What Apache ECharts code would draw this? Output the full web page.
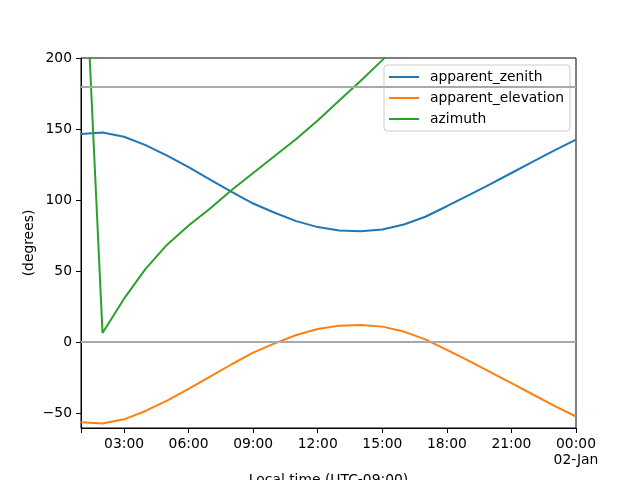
<!DOCTYPE html>
<html lang="en">
<head>
<meta charset="UTF-8">
<title>Solar position</title>
<style>
  html, body { margin: 0; padding: 0; background: #fff; }
  #main { width: 640px; height: 480px; }
</style>
</head>
<body>
<div id="main"></div>
<script src="https://cdn.jsdelivr.net/npm/echarts@6/dist/echarts.min.js"></script>
<script>
// hours of local time, 01:00 on 01-Jan through 00:00 on 02-Jan
var hours = [1, 2, 3, 4, 5, 6, 7, 8, 9, 10, 11, 12, 13, 14, 15, 16, 17, 18, 19, 20, 21, 22, 23, 24];
var apparentZenith = [146.5, 147.5, 144.5, 138.6, 131.3, 123.1, 114.4, 105.7, 97.5, 91.0, 85.1, 80.9,
                      78.5, 78.0, 79.2, 82.7, 88.2, 95.6, 103.2, 111.0, 119.0, 127.0, 135.0, 142.5];
var apparentElevation = [-56.5, -57.5, -54.5, -48.6, -41.3, -33.1, -24.4, -15.7, -7.5, -1.0, 4.9, 9.1,
                         11.5, 12.0, 10.8, 7.3, 1.8, -5.6, -13.2, -21.0, -29.0, -37.0, -45.0, -52.5];
var azimuth = [331, 6.3, 30.5, 51.5, 68.5, 82, 94, 107, 119, 131, 143, 156,
               170, 184, 198.5, 213, 227, 240, 253, 265, 277, 289, 300, 312];
var xTicks = [1, 3, 6, 9, 12, 15, 18, 21, 24];
var xLabels = [3, 6, 9, 12, 15, 18, 21, 24];
var yTicks = [-50, 0, 50, 100, 150, 200];
var refLines = [0, 180];

var font = 'DejaVu Sans';
var fs = 13.89;   // 10pt at 100 dpi

function pairs(ys) {
    return hours.map(function (h, i) { return [h, ys[i]]; });
}

function hourLabel(v) {
    var h = v % 24;
    var s = (h < 10 ? '0' : '') + h + ':00';
    return v === 24 ? s + '\n02-Jan' : s;
}

function lineSeries(name, color, ys) {
    return {
        name: name,
        type: 'line',
        data: pairs(ys),
        showSymbol: false,
        symbol: 'none',
        z: 3,
        lineStyle: { color: color, width: 2 },
        itemStyle: { color: color }
    };
}

var chart = echarts.init(document.getElementById('main'));
chart.setOption({
    animation: false,
    grid: {
        left: 81, right: 64, top: 58, bottom: 52,
        containLabel: false,
        outerBoundsMode: 'none',
        show: true, borderColor: '#000', borderWidth: 1, backgroundColor: 'transparent'
    },
    legend: {
        data: ['apparent_zenith', 'apparent_elevation', 'azimuth'],
        orient: 'vertical',
        left: 384, top: 65,
        icon: 'rect',
        itemWidth: 30, itemHeight: 2,
        itemGap: 5,
        padding: [4, 6, 4, 5],
        backgroundColor: 'rgba(255,255,255,0.8)',
        borderColor: '#cccccc', borderWidth: 1, borderRadius: 3,
        textStyle: { fontFamily: font, fontSize: fs, color: '#000', lineHeight: 16, padding: [0, 0, 0, 6] }
    },
    xAxis: {
        type: 'value',
        min: 1, max: 24,
        name: 'Local time (UTC-09:00)',
        nameLocation: 'middle',
        nameGap: 45,
        nameMoveOverlap: false,
        nameTextStyle: { fontFamily: font, fontSize: fs, color: '#000' },
        axisLine: { show: true, onZero: false, lineStyle: { color: '#000', width: 1 } },
        axisTick: { show: true, length: 5, customValues: xTicks, lineStyle: { color: '#000' } },
        axisLabel: {
            customValues: xLabels, margin: 8,
            fontFamily: font, fontSize: fs, color: '#000', lineHeight: 16,
            formatter: hourLabel
        },
        splitLine: { show: false }
    },
    yAxis: {
        type: 'value',
        min: -60.6, max: 200,
        name: '(degrees)',
        nameLocation: 'middle',
        nameGap: 45,
        nameMoveOverlap: false,
        nameTextStyle: { fontFamily: font, fontSize: fs, color: '#000' },
        axisLine: { show: true, onZero: false, lineStyle: { color: '#000', width: 1 } },
        axisTick: { show: true, length: 5, customValues: yTicks, lineStyle: { color: '#000' } },
        axisLabel: {
            customValues: yTicks, margin: 9,
            fontFamily: font, fontSize: fs, color: '#000',
            formatter: function (v) { return String(v).replace('-', '\u2212'); }
        },
        splitLine: { show: false }
    },
    series: [
        {
            name: 'ref',
            type: 'line',
            data: [],
            z: 1,
            markLine: {
                silent: true,
                symbol: 'none',
                label: { show: false },
                lineStyle: { color: '#a9a9a9', width: 2, type: 'solid' },
                data: refLines.map(function (v) { return { yAxis: v }; })
            }
        },
        lineSeries('apparent_zenith', '#1f77b4', apparentZenith),
        lineSeries('apparent_elevation', '#ff7f0e', apparentElevation),
        lineSeries('azimuth', '#2ca02c', azimuth)
    ]
});
</script>
</body>
</html>
